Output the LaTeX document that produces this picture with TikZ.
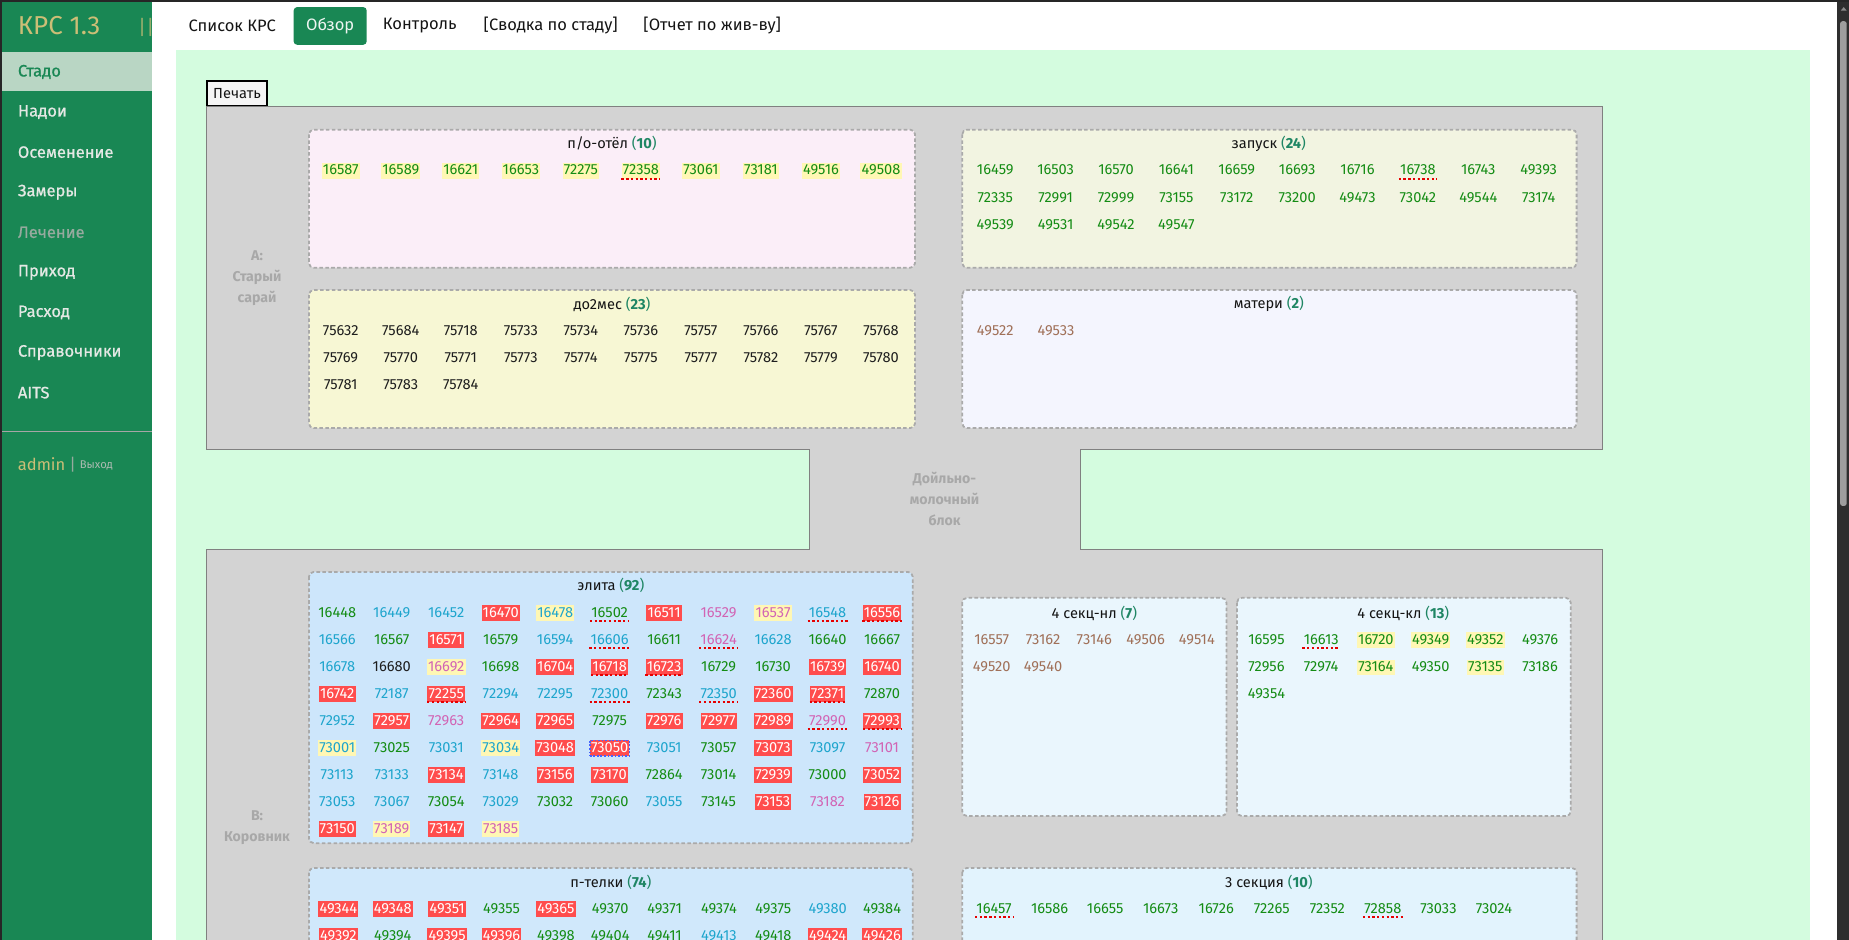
\documentclass[tikz,border=0pt]{standalone}
\usepackage{fontspec}
\usetikzlibrary{positioning}
\setmainfont{Fira Sans}
\newfontfamily\menufont[FakeBold=0.8]{Fira Sans}

\definecolor{sidegreen}{RGB}{25,135,84}
\definecolor{activebg}{RGB}{185,214,196}
\definecolor{menuink}{RGB}{228,232,228}
\definecolor{menudim}{RGB}{150,170,158}
\definecolor{gold}{RGB}{204,190,118}
\definecolor{panelgreen}{RGB}{212,252,223}
\definecolor{barngray}{RGB}{211,211,211}
\definecolor{barnline}{RGB}{128,128,128}
\definecolor{barnink}{RGB}{168,168,168}
\definecolor{penline}{RGB}{170,170,170}
\definecolor{titleink}{RGB}{20,20,20}
\definecolor{cntteal}{RGB}{31,134,100}
\definecolor{cowgreen}{RGB}{20,140,20}
\definecolor{cowcyan}{RGB}{30,165,205}
\definecolor{cowpink}{RGB}{210,100,180}
\definecolor{cowbrown}{RGB}{160,112,88}
\definecolor{cowink}{RGB}{30,30,30}
\definecolor{cowred}{RGB}{255,77,77}
\definecolor{cowyel}{RGB}{255,247,180}
\definecolor{cowblue}{RGB}{70,100,255}
\definecolor{dotred}{RGB}{230,0,0}

\newcommand\cnt[1]{\textcolor{cntteal}{(\textbf{#1})}}

\begin{document}
\begin{tikzpicture}[x=1pt,y=-1pt,
  every node/.style={inner sep=0pt},
  cell/.style={font=\fontsize{12.4}{14}\selectfont, inner xsep=1pt, inner ysep=1.3pt, text height=8.7pt, text depth=2pt},
  grn/.style={text=cowgreen}, cyn/.style={text=cowcyan}, pnk/.style={text=cowpink},
  ink/.style={text=cowink}, brn/.style={text=cowbrown},
  hot/.style={fill=cowred, text=white},
  ygrn/.style={fill=cowyel, text=cowgreen}, ycyn/.style={fill=cowyel, text=cowcyan}, ypnk/.style={fill=cowyel, text=cowpink},
  dotline/.style={draw=dotred, line width=1.8pt, dash pattern=on 2pt off 2pt},
  uline/.style={append after command={(\tikzlastnode.south west) edge[dotline] (\tikzlastnode.south east)}},
  grnu/.style={grn,uline}, cynu/.style={cyn,uline}, pnku/.style={pnk,uline},
  hotu/.style={hot,uline}, ygrnu/.style={ygrn,uline},
  hotsel/.style={hot, draw=cowblue, line width=1.2pt, dash pattern=on 1.5pt off 1.5pt},
  pen/.style={draw=penline, line width=1.5pt, dash pattern=on 3pt off 2pt, rounded corners=4pt},
  ttl/.style={font=\fontsize{12.4}{14}\selectfont, text=titleink},
  barn/.style={font=\fontsize{12}{18}\selectfont\bfseries, text=barnink, align=center},
  menu/.style={font=\menufont\fontsize{14}{16}\selectfont, text=menuink, anchor=west},
  tab/.style={font=\fontsize{14}{16}\selectfont, text=titleink},
]
\useasboundingbox (0,0) rectangle (1568,797);
\clip (0,0) rectangle (1568,797);

% page, sidebar, scrollbar
\fill[white] (0,0) rectangle (1568,797);
\fill[black!85] (0,0) rectangle (1568,2);
\fill[sidegreen] (0,2) rectangle (129,797);
\fill[black!85] (0,2) rectangle (2,797);
\fill[activebg] (2,44) rectangle (129,77);
\draw[black!35, line width=1pt] (2,366) -- (129,366);
\fill[black!82] (1558,2) rectangle (1568,797);
\fill[black!38, rounded corners=2pt] (1560.5,18) rectangle (1566,429);
\fill[black!45] (1561,9) -- (1566,9) -- (1563.5,6) -- cycle;

\node[font=\fontsize{22}{24}\selectfont, text=gold, anchor=west] (app) at (15,22) {КРС 1.3};
\node[font=\fontsize{17}{18}\selectfont, text=gold!70!sidegreen, anchor=west] (bar) at (117,23) {||};
\node[menu, text=sidegreen] (m1) at (15,61) {Стадо};
\node[menu] (m2) at (15,95) {Надои};
\node[menu] (m3) at (15,129) {Осеменение};
\node[menu] (m4) at (15,163) {Замеры};
\node[menu, text=menudim] (m5) at (15,197) {Лечение};
\node[menu] (m6) at (15,231) {Приход};
\node[menu] (m7) at (15,265) {Расход};
\node[menu] (m8) at (15,299) {Справочники};
\node[menu] (m9) at (15,333) {AITS};
\node[font=\fontsize{14}{16}\selectfont, text=gold, anchor=west] (user) at (15,394) {admin};
\node[font=\fontsize{14}{16}\selectfont, text=menudim, right=3pt of user] (sep) {|};
\node[font=\fontsize{9.5}{11}\selectfont, text=menudim!80!white, right=3pt of sep, yshift=-1pt] (quit) {Выход};

% tabs
\node[tab] (t1) at (197,22) {Список КРС};
\fill[sidegreen, rounded corners=3pt] (249,6) rectangle (311,38);
\node[tab, text=white!92!sidegreen] (t2) at (280,22) {Обзор};
\node[tab] (t3) at (356,22) {Контроль};
\node[tab] (t4) at (467,22) {[Сводка по стаду]};
\node[tab] (t5) at (604,22) {[Отчет по жив-ву]};

% panel and barns
\fill[panelgreen] (149,42) rectangle (1535,797);
\draw[black, line width=1.3pt, fill=black!4] (175.5,68.5) rectangle (226.5,89.5);
\node[ttl] (print) at (201,79) {Печать};
\draw[barnline, fill=barngray] (175,90) rectangle (1359,381);
\draw[barnline, fill=barngray] (175,466) rectangle (1359,810);
\fill[barngray] (686,380.4) rectangle (916,466.6);
\draw[barnline] (686,381) -- (686,466) (916,381) -- (916,466);
\node[barn] (barnA) at (218,236) {А:\\Старый\\сарай};
\node[barn] (milk) at (801,423) {Дойльно-\\молочный\\блок};
\node[barn] (barnB) at (218,702) {В:\\Коровник};

% pens
\draw[pen, fill={rgb,255:red,251;green,238;blue,248}] (262,110) rectangle (776,227);
\draw[pen, fill={rgb,255:red,247;green,247;blue,212}] (262,246) rectangle (776,363);
\draw[pen, fill={rgb,255:red,242;green,244;blue,225}] (816,110) rectangle (1337,227);
\draw[pen, fill={rgb,255:red,244;green,245;blue,254}] (816,246) rectangle (1337,363);
\draw[pen, fill={rgb,255:red,205;green,230;blue,251}] (262,485) rectangle (774,715);
\draw[pen, fill={rgb,255:red,234;green,246;blue,253}] (816,507) rectangle (1040,692);
\draw[pen, fill={rgb,255:red,234;green,246;blue,253}] (1049,507) rectangle (1332,692);
\draw[pen, fill={rgb,255:red,208;green,232;blue,251}] (262,736) rectangle (774,830);
\draw[pen, fill={rgb,255:red,226;green,243;blue,253}] (816,736) rectangle (1337,830);

\node[ttl] (potelT) at (519,122) {п/о-отёл \cnt{10}};
\node[ttl] (do2T) at (519,258) {до2мес \cnt{23}};
\node[ttl] (zapT) at (1076,122) {запуск \cnt{24}};
\node[ttl] (matT) at (1076,258) {матери \cnt{2}};
\node[ttl] (elT) at (518,496) {элита \cnt{92}};
\node[ttl] (nlT) at (928,520) {4 секц-нл \cnt{7}};
\node[ttl] (klT) at (1190,520) {4 секц-кл \cnt{13}};
\node[ttl] (ptT) at (518,748) {п-телки \cnt{74}};
\node[ttl] (s3T) at (1076,748) {3 секция \cnt{10}};

% cows
\foreach \n/\s [count=\i from 0] in {16587/ygrn,16589/ygrn,16621/ygrn,16653/ygrn,72275/ygrn,72358/ygrnu,73061/ygrn,73181/ygrn,49516/ygrn,49508/ygrn}{
  \pgfmathsetmacro\cx{289+50.9*\i}
  \node[cell,\s] (po\i) at (\cx,145) {\n};
}
\foreach \n [count=\i from 0] in {75632,75684,75718,75733,75734,75736,75757,75766,75767,75768,75769,75770,75771,75773,75774,75775,75777,75782,75779,75780,75781,75783,75784}{
  \pgfmathsetmacro\cx{289+50.9*mod(\i,10)}
  \pgfmathsetmacro\cy{281+23*div(\i,10)}
  \node[cell,ink] (dm\i) at (\cx,\cy) {\n};
}
\foreach \n/\s [count=\i from 0] in {16459/grn,16503/grn,16570/grn,16641/grn,16659/grn,16693/grn,16716/grn,16738/grnu,16743/grn,49393/grn,72335/grn,72991/grn,72999/grn,73155/grn,73172/grn,73200/grn,49473/grn,73042/grn,49544/grn,73174/grn,49539/grn,49531/grn,49542/grn,49547/grn}{
  \pgfmathsetmacro\cx{844+51.2*mod(\i,10)}
  \pgfmathsetmacro\cy{145+23*div(\i,10)}
  \node[cell,\s] (zp\i) at (\cx,\cy) {\n};
}
\foreach \n [count=\i from 0] in {49522,49533}{
  \pgfmathsetmacro\cx{844+51.5*\i}
  \node[cell,brn] (mt\i) at (\cx,281) {\n};
}
\foreach \n/\s [count=\i from 0] in {16448/grn,16449/cyn,16452/cyn,16470/hot,16478/ycyn,16502/grnu,16511/hot,16529/pnk,16537/ypnk,16548/cynu,16556/hotu,
  16566/cyn,16567/grn,16571/hot,16579/grn,16594/cyn,16606/cynu,16611/grn,16624/pnku,16628/cyn,16640/grn,16667/grn,
  16678/cyn,16680/ink,16692/ypnk,16698/grn,16704/hot,16718/hotu,16723/hotu,16729/grn,16730/grn,16739/hot,16740/hot,
  16742/hot,72187/cyn,72255/hotu,72294/cyn,72295/cyn,72300/cynu,72343/grn,72350/cynu,72360/hot,72371/hotu,72870/grn,
  72952/cyn,72957/hot,72963/pnk,72964/hot,72965/hot,72975/grn,72976/hot,72977/hot,72989/hot,72990/pnku,72993/hotu,
  73001/ycyn,73025/grn,73031/cyn,73034/ycyn,73048/hot,73050/hotsel,73051/cyn,73057/grn,73073/hot,73097/cyn,73101/pnk,
  73113/cyn,73133/cyn,73134/hot,73148/cyn,73156/hot,73170/hot,72864/grn,73014/grn,72939/hot,73000/grn,73052/hot,
  73053/cyn,73067/cyn,73054/grn,73029/cyn,73032/grn,73060/grn,73055/cyn,73145/grn,73153/hot,73182/pnk,73126/hot,
  73150/hot,73189/ypnk,73147/hot,73185/ypnk}{
  \pgfmathsetmacro\cx{286+46.2*mod(\i,11)}
  \pgfmathsetmacro\cy{520+22.9*div(\i,11)}
  \node[cell,\s] (el\i) at (\cx,\cy) {\n};
}
\foreach \n [count=\i from 0] in {16557,73162,73146,49506,49514,49520,49540}{
  \pgfmathsetmacro\cx{841+43.5*mod(\i,5)}
  \pgfmathsetmacro\cy{543+23*div(\i,5)}
  \node[cell,brn] (nl\i) at (\cx,\cy) {\n};
}
\foreach \n/\s [count=\i from 0] in {16595/grn,16613/grnu,16720/ygrn,49349/ygrn,49352/ygrn,49376/grn,72956/grn,72974/grn,73164/ygrn,49350/grn,73135/ygrn,73186/grn,49354/grn}{
  \pgfmathsetmacro\cx{1074+46.4*mod(\i,6)}
  \pgfmathsetmacro\cy{543+23*div(\i,6)}
  \node[cell,\s] (kl\i) at (\cx,\cy) {\n};
}
\foreach \n/\s [count=\i from 0] in {49344/hot,49348/hot,49351/hot,49355/grn,49365/hot,49370/grn,49371/grn,49374/grn,49375/grn,49380/cyn,49384/grn,
  49392/hot,49394/grn,49395/hot,49396/hot,49398/grn,49404/grn,49411/grn,49413/cyn,49418/grn,49424/hot,49426/hot}{
  \pgfmathsetmacro\cx{287+46.1*mod(\i,11)}
  \pgfmathsetmacro\cy{771+23*div(\i,11)}
  \node[cell,\s] (pt\i) at (\cx,\cy) {\n};
}
\foreach \n/\s [count=\i from 0] in {16457/grnu,16586/grn,16655/grn,16673/grn,16726/grn,72265/grn,72352/grn,72858/grnu,73033/grn,73024/grn}{
  \pgfmathsetmacro\cx{843+47.1*\i}
  \node[cell,\s] (sc\i) at (\cx,771) {\n};
}
\end{tikzpicture}
\end{document}
